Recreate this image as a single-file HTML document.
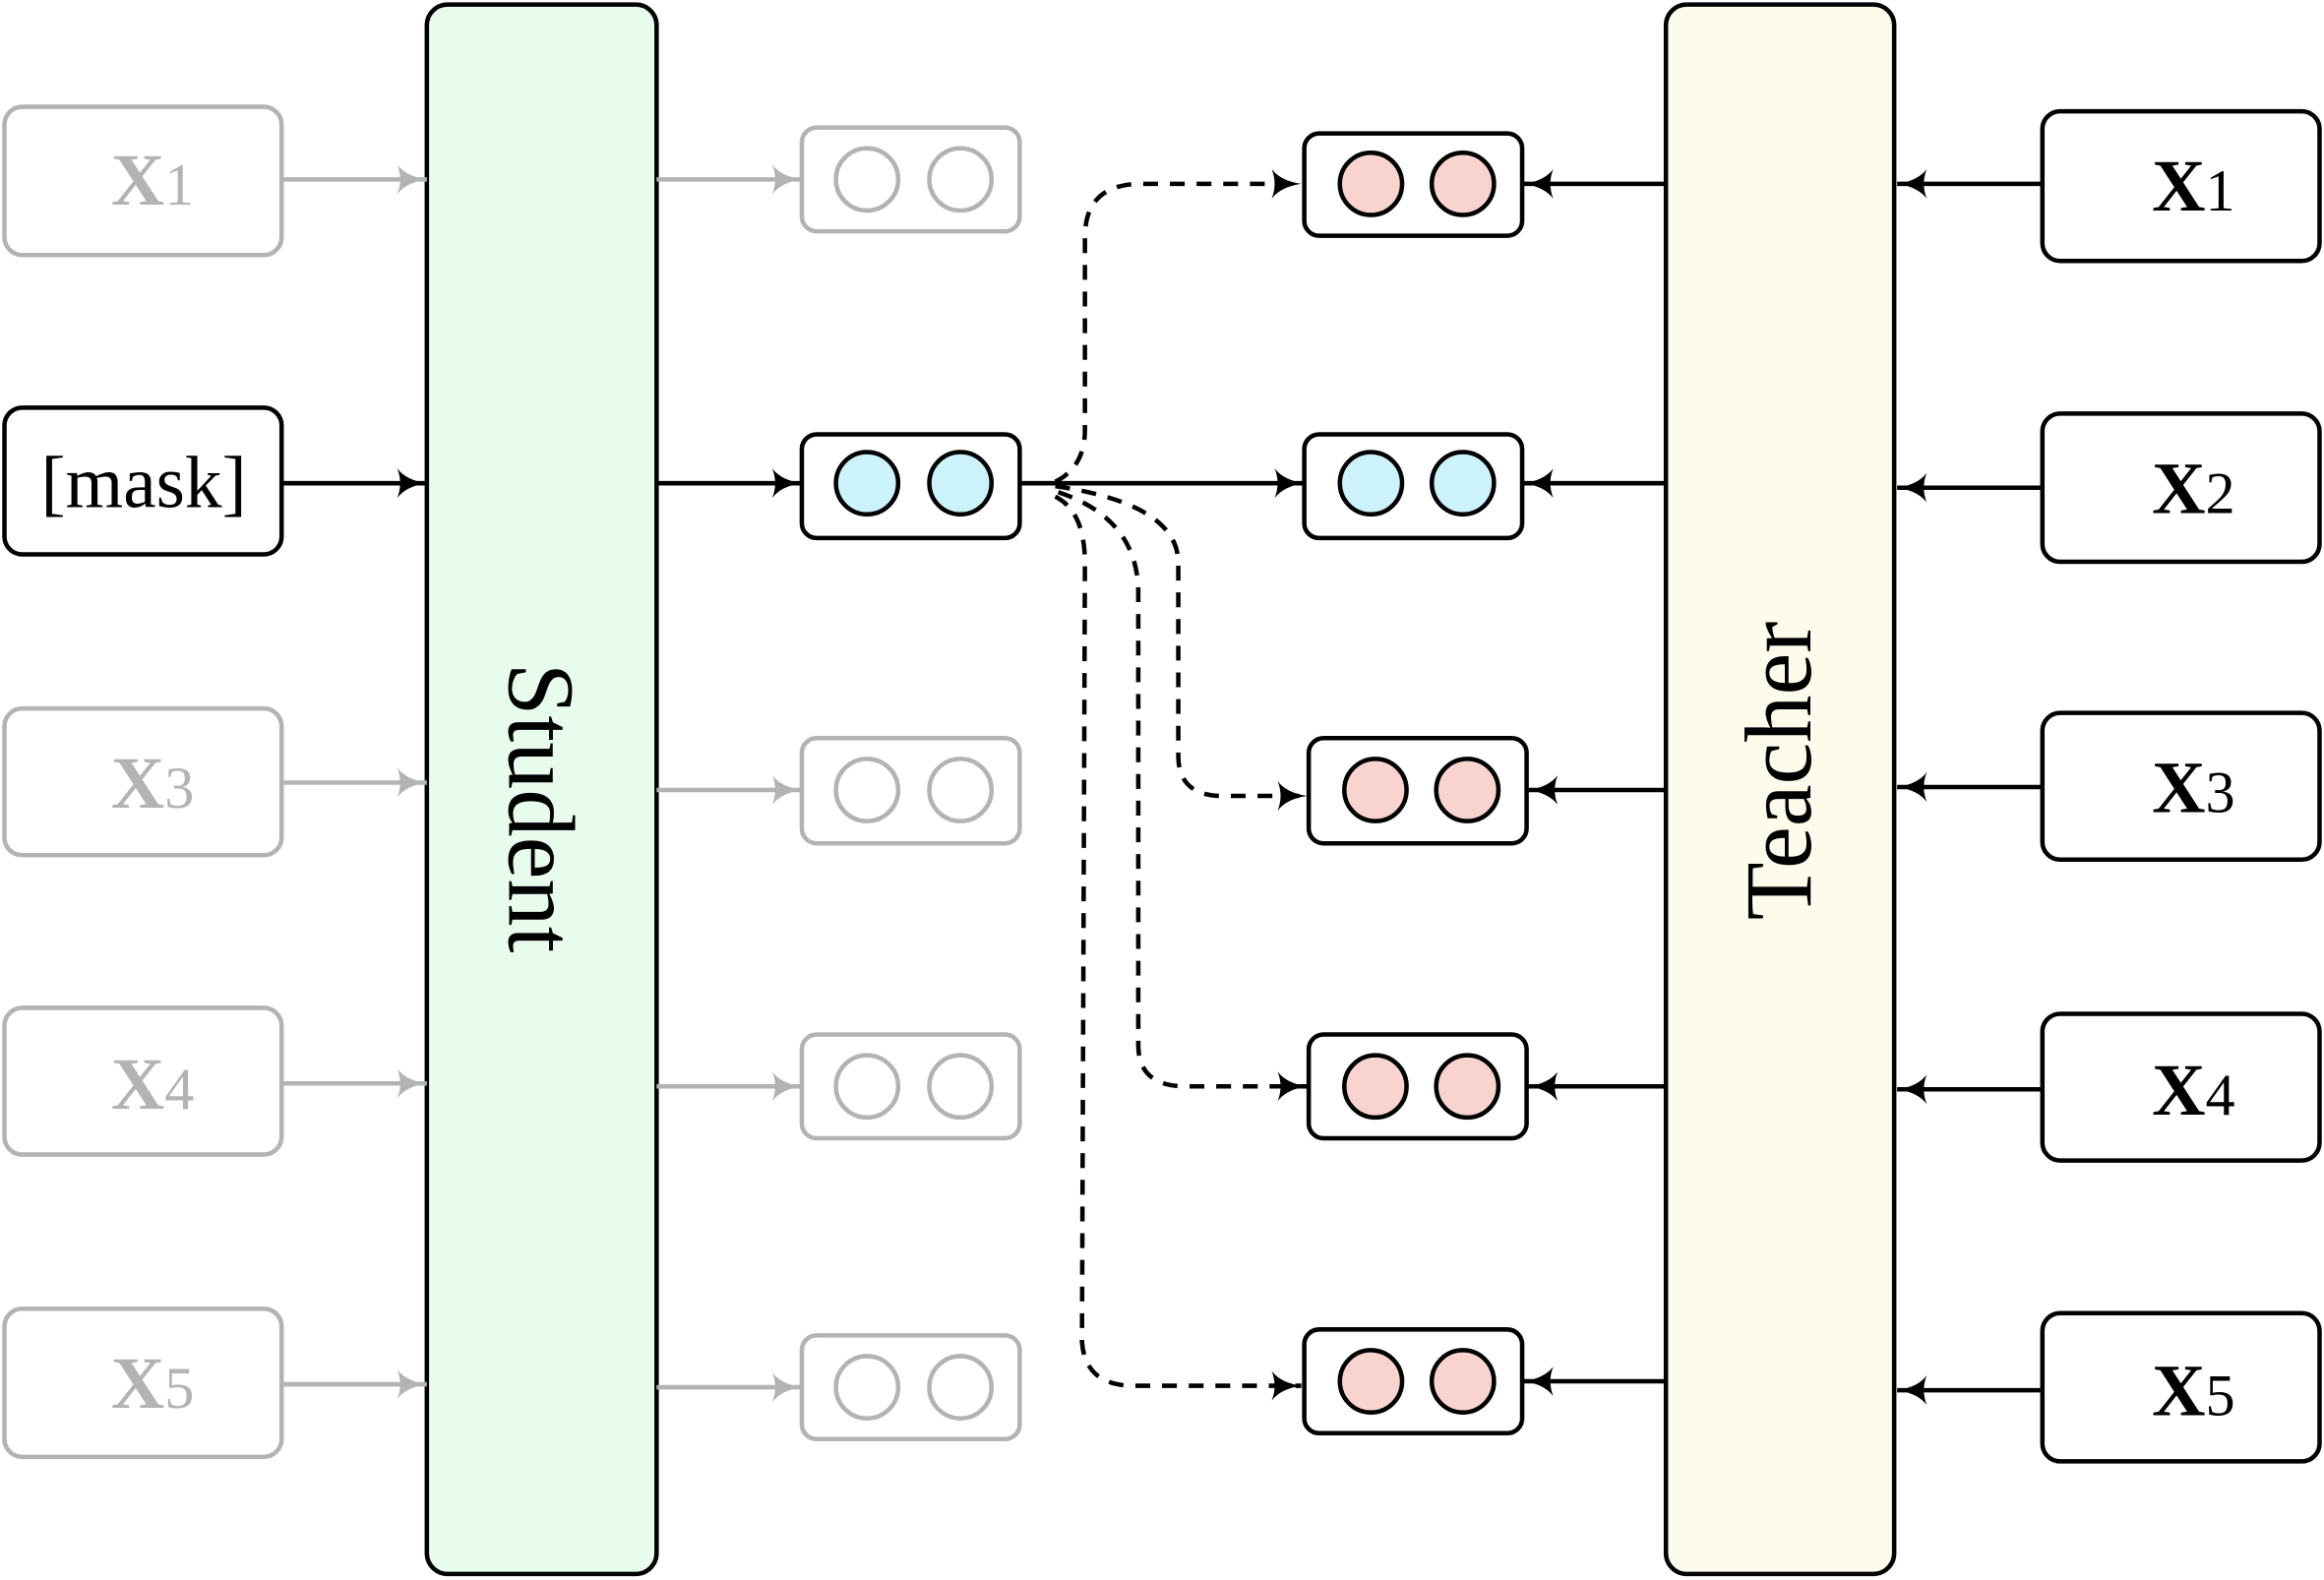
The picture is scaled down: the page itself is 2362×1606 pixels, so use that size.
<!DOCTYPE html>
<html><head><meta charset="utf-8"><style>html,body{margin:0;padding:0;background:#fff}svg{display:block}</style></head>
<body>
<svg width="2362" height="1606" viewBox="0 0 1568 1066" xmlns="http://www.w3.org/2000/svg" font-family="Liberation Serif, serif">
<defs>
<marker id="ab" viewBox="0 0 20 20" refX="20" refY="10" markerWidth="20" markerHeight="20" markerUnits="userSpaceOnUse" orient="auto"><path d="M0,0 Q6,8 20,10 Q6,12 0,20 Q4,10 0,0Z" fill="#000"/></marker>
<marker id="ag" viewBox="0 0 20 20" refX="20" refY="10" markerWidth="20" markerHeight="20" markerUnits="userSpaceOnUse" orient="auto"><path d="M0,0 Q6,8 20,10 Q6,12 0,20 Q4,10 0,0Z" fill="#b3b3b3"/></marker>
</defs>
<!-- Student / Teacher -->
<rect x="288" y="3" width="155" height="1059" rx="14" fill="#e8fcee" stroke="#000" stroke-width="3"/>
<rect x="1124" y="3" width="154" height="1059" rx="14" fill="#fdfbeb" stroke="#000" stroke-width="3"/>
<text transform="translate(365,545) rotate(90)" text-anchor="middle" dominant-baseline="central" font-size="64">Student</text>
<text transform="translate(1200,520) rotate(-90)" text-anchor="middle" dominant-baseline="central" font-size="64">Teacher</text>

<!-- left inputs -->
<g fill="#fff" stroke="#b3b3b3" stroke-width="3">
<rect x="3" y="72" width="187" height="100" rx="12"/>
<rect x="3" y="478" width="187" height="99" rx="12"/>
<rect x="3" y="680" width="187" height="99" rx="12"/>
<rect x="3" y="883" width="187" height="100" rx="12"/>
</g>
<rect x="3" y="275" width="187" height="99" rx="12" fill="#fff" stroke="#000" stroke-width="3"/>
<g fill="#b3b3b3" font-size="50" text-anchor="middle">
<text x="103" y="138"><tspan font-weight="bold">X</tspan><tspan font-size="40">1</tspan></text>
<text x="103" y="545"><tspan font-weight="bold">X</tspan><tspan font-size="40">3</tspan></text>
<text x="103" y="748"><tspan font-weight="bold">X</tspan><tspan font-size="40">4</tspan></text>
<text x="103" y="950"><tspan font-weight="bold">X</tspan><tspan font-size="40">5</tspan></text>
</g>
<text x="97" y="342" font-size="50" text-anchor="middle">[mask]</text>

<g stroke="#b3b3b3" stroke-width="3" marker-end="url(#ag)">
<line x1="190" y1="121" x2="288" y2="121"/>
<line x1="190" y1="528" x2="288" y2="528"/>
<line x1="190" y1="731" x2="288" y2="731"/>
<line x1="190" y1="934" x2="288" y2="934"/>
<line x1="443" y1="121" x2="541" y2="121"/>
<line x1="443" y1="533" x2="541" y2="533"/>
<line x1="443" y1="733" x2="541" y2="733"/>
<line x1="443" y1="936" x2="541" y2="936"/>
</g>
<g stroke="#000" stroke-width="3" marker-end="url(#ab)">
<line x1="190" y1="326" x2="288" y2="326"/>
<line x1="443" y1="326" x2="541" y2="326"/>
<line x1="688" y1="326" x2="880" y2="326"/>
</g>

<!-- student outputs -->
<g stroke="#b3b3b3" stroke-width="3" fill="#fff">
<rect x="541" y="86" width="147" height="70" rx="10"/>
<circle cx="585" cy="121" r="21"/><circle cx="648" cy="121" r="21"/>
<rect x="541" y="498" width="147" height="71" rx="10"/>
<circle cx="585" cy="533" r="21"/><circle cx="648" cy="533" r="21"/>
<rect x="541" y="698" width="147" height="70" rx="10"/>
<circle cx="585" cy="733" r="21"/><circle cx="648" cy="733" r="21"/>
<rect x="541" y="901" width="147" height="70" rx="10"/>
<circle cx="585" cy="936" r="21"/><circle cx="648" cy="936" r="21"/>
</g>
<g stroke="#000" stroke-width="3">
<rect x="541" y="293" width="147" height="70" rx="10" fill="#fff"/>
<circle cx="585" cy="326" r="21" fill="#ccf2fc"/><circle cx="648" cy="326" r="21" fill="#ccf2fc"/>
<rect x="880" y="293" width="147" height="70" rx="10" fill="#fff"/>
<circle cx="925" cy="326" r="21" fill="#ccf2fc"/><circle cx="987" cy="326" r="21" fill="#ccf2fc"/>
<rect x="880" y="90" width="147" height="69" rx="10" fill="#fff"/>
<circle cx="925" cy="124" r="21" fill="#f9d4ce"/><circle cx="987" cy="124" r="21" fill="#f9d4ce"/>
<rect x="883" y="498" width="147" height="71" rx="10" fill="#fff"/>
<circle cx="928" cy="533" r="21" fill="#f9d4ce"/><circle cx="990" cy="533" r="21" fill="#f9d4ce"/>
<rect x="883" y="698" width="147" height="70" rx="10" fill="#fff"/>
<circle cx="928" cy="733" r="21" fill="#f9d4ce"/><circle cx="990" cy="733" r="21" fill="#f9d4ce"/>
<rect x="880" y="897" width="147" height="70" rx="10" fill="#fff"/>
<circle cx="925" cy="932" r="21" fill="#f9d4ce"/><circle cx="987" cy="932" r="21" fill="#f9d4ce"/>
</g>

<!-- right inputs -->
<g fill="#fff" stroke="#000" stroke-width="3">
<rect x="1378" y="75" width="187" height="101" rx="12"/>
<rect x="1378" y="279" width="187" height="100" rx="12"/>
<rect x="1378" y="481" width="187" height="99" rx="12"/>
<rect x="1378" y="684" width="187" height="99" rx="12"/>
<rect x="1378" y="886" width="187" height="100" rx="12"/>
</g>
<g fill="#000" font-size="50" text-anchor="middle">
<text x="1480" y="142"><tspan font-weight="bold">X</tspan><tspan font-size="40">1</tspan></text>
<text x="1480" y="346"><tspan font-weight="bold">X</tspan><tspan font-size="40">2</tspan></text>
<text x="1480" y="548"><tspan font-weight="bold">X</tspan><tspan font-size="40">3</tspan></text>
<text x="1480" y="752"><tspan font-weight="bold">X</tspan><tspan font-size="40">4</tspan></text>
<text x="1480" y="955"><tspan font-weight="bold">X</tspan><tspan font-size="40">5</tspan></text>
</g>
<g stroke="#000" stroke-width="3" marker-end="url(#ab)">
<line x1="1378" y1="124" x2="1280" y2="124"/>
<line x1="1378" y1="329" x2="1280" y2="329"/>
<line x1="1378" y1="531" x2="1280" y2="531"/>
<line x1="1378" y1="735" x2="1280" y2="735"/>
<line x1="1378" y1="938" x2="1280" y2="938"/>
<line x1="1124" y1="124" x2="1028" y2="124"/>
<line x1="1124" y1="326" x2="1028" y2="326"/>
<line x1="1124" y1="533" x2="1031" y2="533"/>
<line x1="1124" y1="733" x2="1031" y2="733"/>
<line x1="1124" y1="932" x2="1028" y2="932"/>
</g>

<!-- dashed connectors -->
<g stroke="#000" stroke-width="3" fill="none" stroke-dasharray="10,8" marker-end="url(#ab)">
<path d="M712,325 Q732,315 732,290 L732,160 Q732,124 770,124 L878,124"/>
<path d="M712,328 Q795,340 795,380 L795,510 Q795,537 825,537 L882,537"/>
<path d="M714,332 Q768,350 768,400 L768,705 Q768,733 800,733 L882,733"/>
<path d="M712,335 Q732,345 732,380 L730,905 Q732,935 765,935 L878,935"/>
</g>
</svg>
</body></html>
